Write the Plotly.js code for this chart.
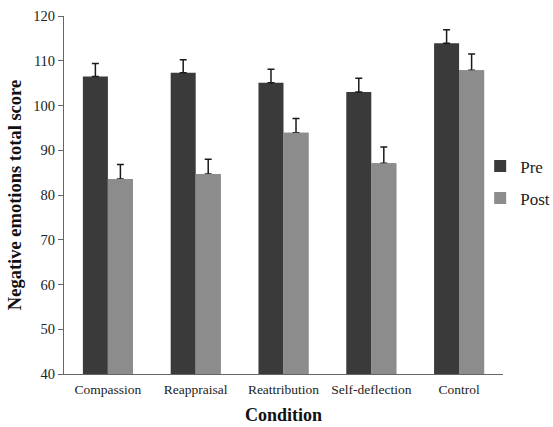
<!DOCTYPE html>
<html>
<head>
<meta charset="utf-8">
<script src="https://cdn.plot.ly/plotly-3.0.1.min.js"></script>
<style>html,body{margin:0;padding:0;background:#fff;overflow:hidden;}#chart{width:553px;height:427px;}</style>
</head>
<body>
<div id="chart"></div>
<script>
var conditions = ["Compassion", "Reappraisal", "Reattribution", "Self-deflection", "Control"];
var preValues = [106.5, 107.3, 105.1, 103.0, 113.9];
var preErrors = [2.9, 2.9, 3.0, 3.1, 3.0];
var postValues = [83.6, 84.7, 93.9, 87.1, 107.9];
var postErrors = [3.2, 3.3, 3.2, 3.6, 3.6];
var yTicks = [40, 50, 60, 70, 80, 90, 100, 110, 120];

var errStyle = function(arr){
  return {type: "data", array: arr, arrayminus: arr.map(function(){return 0;}), symmetric: false,
          color: "#1a1a1a", thickness: 1.5, width: 3.5};
};

var preColor = "#3a3a3a", postColor = "#8c8c8c";
var traces = [
  {type: "bar", name: "Pre", legendgroup: "a", offsetgroup: "pre", x: conditions, y: preValues,
   error_y: errStyle(preErrors), marker: {color: preColor, line: {width: 0}}},
  {type: "bar", name: "Post", legendgroup: "b", offsetgroup: "post", x: conditions, y: postValues,
   error_y: errStyle(postErrors), marker: {color: postColor, line: {width: 0}}},
  {type: "bar", name: "Post", legendgroup: "b", offsetgroup: "post", showlegend: false, x: conditions, y: postValues,
   marker: {color: postColor, line: {width: 0}}}
];

var serif = "'Liberation Serif', 'Times New Roman', Times, serif";
var layout = {
  width: 553, height: 427,
  margin: {l: 64, r: 50, t: 16, b: 53, autoexpand: false},
  paper_bgcolor: "#ffffff", plot_bgcolor: "#ffffff",
  font: {family: serif, color: "#222", size: 14},
  barmode: "group", bargap: 0.43, bargroupgap: 0,
  showlegend: true,
  legend: {x: 0.948, xanchor: "left", y: 0.535, yanchor: "middle", font: {family: serif, size: 17, color: "#222"},
           itemwidth: 30, tracegroupgap: 7, bgcolor: "rgba(0,0,0,0)", borderwidth: 0},
  xaxis: {
    title: {text: "<b>Condition</b>", font: {family: serif, size: 18, color: "#111"}, standoff: 12},
    showline: true, linecolor: "#666", linewidth: 1, ticks: "", showgrid: false,
    tickangle: 0, automargin: false, ticklabelstandoff: 3,
    tickfont: {family: serif, size: 13.5, color: "#222"}, fixedrange: true
  },
  yaxis: {
    title: {text: "<b>Negative emotions total score</b>", font: {family: serif, size: 18.5, color: "#111"}, standoff: 6},
    range: [40, 120], tickvals: yTicks, ticktext: yTicks.map(String), automargin: false,
    showline: true, linecolor: "#666", linewidth: 1, ticks: "outside", ticklen: 5, tickcolor: "#666",
    showgrid: false, zeroline: false, tickfont: {family: serif, size: 14.5, color: "#222"}, fixedrange: true
  }
};

Plotly.newPlot("chart", traces, layout, {displayModeBar: false, staticPlot: true});
</script>
</body>
</html>
